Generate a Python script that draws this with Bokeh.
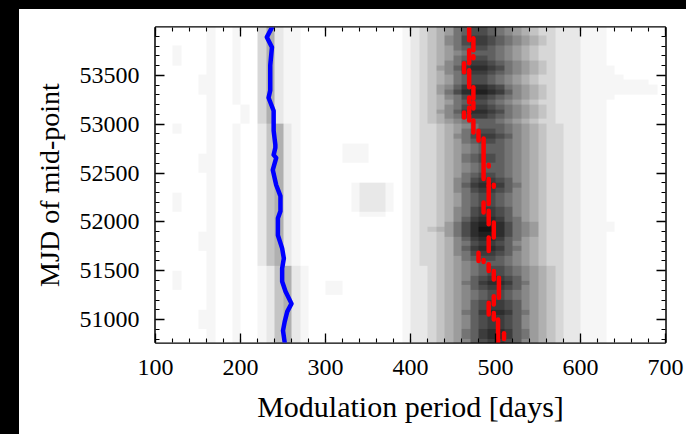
import numpy as np
from bokeh.plotting import figure
from bokeh.layouts import row, column
from bokeh.models import Range1d, FixedTicker, LinearAxis, LinearColorMapper, Spacer
from bokeh.embed import file_html
from bokeh.resources import INLINE

# ---------------- data ----------------
x_ticks = [100, 200, 300, 400, 500, 600, 700]
x_minor = list(range(100, 701, 20))
y_ticks = [51000, 51500, 52000, 52500, 53000, 53500]
y_minor = list(range(50800, 54000, 100))

period_range = (100, 700)
mjd_range = (50765, 53990)

# periodogram power map: columns = period bins 100..700 step 10,
# rows = MJD bins of 50 (top row 53950-54000 ... bottom row 50750-50800),
# hex digit = darkness level (0 white .. f black)
map_x0, map_dx = 100, 600
map_y0, map_dy = 50750, 3250
power_rows = [
    "000000100100 3521 10000000000001 2345689aa9876543322211 10000000",  # 53950
    "000000100100 3521 10000000000001 2345689aa9876543322211 10000000",
    "000000100100 3521 10000000000001 234578abba987654322211 10000000",
    "000000100100 3521 10000000000001 234578abba987654322211 10000000",
    "001000100100 3521 10000000000001 2345689aa9876543322211 10000000",
    "001000100100 3521 10000000000001 2345678999876543322211 10000000",  # 53700
    "001000100100 3521 10000000000001 2345689aa9876543322211 10000000",
    "001000100100 3521 10000000000001 234578abba987654322211 10000000",
    "000000100100 3521 10000000000001 234679bccba87654322211 11000000",
    "000000100100 3521 10000000000001 234578abba987654322211 11000000",
    "000001100100 3521 10000000000001 2345689aa9876543322211 11100000",  # 53450
    "000001100100 3521 10000000000001 2345689aa9876543322211 11111100",
    "000001100100 3521 10000000000001 234679bccba87654322211 11111110",
    "000001100100 3521 10000000000001 23468acddcb97654322211 11111110",
    "000000100100 3521 10000000000001 234578abba987654322211 11000000",
    "000000100100 3521 10000000000001 2345689aa9876543322211 10000000",  # 53200
    "000000100010 3521 10000000000001 234578abba987654322211 10000000",
    "000000100010 3521 10000000000001 234679bccba87654322211 10000000",
    "000000100010 3521 10000000000001 234578abba987654322211 10000000",
    "000000100010 3521 10000000000001 2345678999876543322211 10000000",
    "001000100100 2452 10000000000001 2334567899987654332211 10000000",  # 52950
    "001000100100 2452 10000000000001 23345689aa987654332211 10000000",
    "000000100100 2452 10000000000001 2334578abba97654332211 10000000",
    "000000100100 2452 10000000000001 23345689aa987654332211 10000000",
    "000000100100 2452 10000011100001 2334567899987654332211 10000000",
    "000000100100 2452 10000011100001 2334567899987654332211 10000000",  # 52700
    "000001100100 2452 10000011100001 23345689aa987654332211 10000000",
    "000001100100 2452 10000011100001 23345689aa987654332211 10000000",
    "000001100100 2452 10000000000001 2334567899987654332211 10000000",
    "000001100100 2452 10000000000001 2334567899987654332211 10000000",
    "000000100100 2452 10000000000001 23345689aa987654332211 10000000",  # 52450
    "000000100100 2452 10000000000001 2334578abba97654332211 10000000",
    "000000100100 2452 10000001222101 2334579bccb98654332211 10000000",
    "000000100100 2452 10000001222101 2334578abba97654332211 10000000",
    "001000100100 2452 10000001222101 23345689aa987654332211 10000000",
    "001000100100 2452 10000001222101 23345689aa987654332211 10000000",  # 52200
    "001000100100 2452 10000001222101 23345689aa987654332211 10000000",
    "001000100100 2452 10000001222101 2334578abba97654332211 10000000",
    "000000100100 2452 10000000111001 2334578abba97654332211 10000000",
    "000000100100 2452 10000000000001 2334579bccb98654332211 10000000",
    "000000100100 2452 10000000000001 233468acddca8764332211 11000000",  # 51950
    "000000100100 2452 10000000000001 234568aceeca8764332211 11000000",
    "000001100100 2452 10000000000001 233468acddca8764332211 10000000",
    "000001100100 2452 10000000000001 2334579bccb98654332211 10000000",
    "000001100100 2452 10000000000001 2334578abba97654332211 10000000",
    "000001100100 2452 10000000000001 2334579bccb98654332211 10000000",  # 51700
    "000000100100 2452 10000000000001 2334578abba97654332211 10000000",
    "000000100100 2452 10000000000001 23345689aa987654332211 10000000",
    "000000100100 2452 10000000000001 2334567899987654332211 10000000",
    "000000100100 1245 21000000000001 223456789aa98765432211 10000000",
    "001000100100 1245 21000000000001 223456789aa98765432211 10000000",  # 51450
    "001000100100 1245 21000000000001 22345679abba9765432211 10000000",
    "001000100100 1245 21001100000001 22345689bccb9865432211 10000000",
    "001000100100 1245 21001100000001 22345679abba9765432211 10000000",
    "000000100100 1245 21001100000001 223456789aa98765432211 10000000",
    "000000100100 1245 21000000000001 223456789aa98765432211 10000000",  # 51200
    "000000100100 1245 21000000000001 22345679abba9765432211 10000000",
    "000000100100 1245 21000000000001 22345679abba9765432211 10000000",
    "000001100100 1245 21000000000001 22345689bccb9865432211 10000000",
    "000001100100 1245 21000000000001 22345679abba9765432211 10000000",
    "000001100100 1245 21000000000001 22345679abba9765432211 10000000",  # 50950
    "000001100100 1245 21000000000001 22345679abba9765432211 10000000",
    "000000100100 1245 21000000000001 22345689bccb9865432211 10000000",
    "000000100100 1245 21000000000001 22345689bccb9865432211 10000000",
    "000000100100 1245 21000000000001 22345679abba9765432211 10000000",  # 50750
]

# blue track (secondary peak)
blue_period = [237, 231, 237, 235, 235, 233, 239, 239, 241, 241, 239, 242, 238, 242,
               247, 247, 244, 244, 249, 251, 249, 249, 253, 260, 255, 252, 250, 252]
blue_mjd = [53990, 53891, 53788, 53603, 53346, 53271, 53138, 52933, 52790, 52759,
            52686, 52655, 52532, 52377, 52264, 52110, 52038, 51863, 51729, 51626,
            51524, 51390, 51287, 51163, 51081, 50979, 50886, 50765]

# red track (main peak), drawn as runs of constant period
red_period = [469, 474, 469, 474, 463, 469, 474, 469, 474, 469, 463, 469, 474, 480,
              486, 492, 492, 498, 492, 486, 492, 498, 492, 480, 486, 492, 498, 504,
              498, 492, 498, 503, 510, 503]
red_mjd_start = [53860, 53757, 53624, 53676, 53531, 53377, 53264, 53223, 53161, 53120,
                 53068, 53038, 52915, 52833, 52439, 52566, 52370, 52360, 52182, 52096,
                 51976, 51839, 51702, 51599, 51589, 51496, 51411, 51222, 51154, 51051,
                 51000, 50805, 50800, 50765]
red_mjd_end = [53990, 53880, 53757, 53696, 53624, 53552, 53377, 53274, 53223, 53171,
               53120, 53089, 53038, 52932, 52853, 52586, 52439, 52380, 52370, 52199,
               52113, 51993, 51839, 51684, 51609, 51565, 51496, 51428, 51239, 51171,
               51068, 51000, 50860, 50797]

# ---------------- build ----------------
rows = []
for r in power_rows:
    s = r.replace(" ", "")
    s = (s + "0" * 60)[:60]
    rows.append([int(c, 16) for c in s])
power = np.flipud(np.array(rows, dtype=float))

# grey level for each darkness step 0..15
grey_lut = [255, 246, 232, 215, 196, 176, 156, 136, 116, 96, 76, 60, 45, 32, 20, 10]
palette = ["#%02x%02x%02x" % (g, g, g) for g in grey_lut]

FONT = "Liberation Serif"

p = figure(width=667, height=425, output_backend="svg", toolbar_location=None,
           x_range=Range1d(*period_range), y_range=Range1d(*mjd_range),
           min_border_left=136, min_border_right=21, min_border_top=18,
           min_border_bottom=92, background_fill_color="white",
           border_fill_color="white")
p.xgrid.visible = False
p.ygrid.visible = False
p.outline_line_color = "black"
p.outline_line_width = 2.5

mapper = LinearColorMapper(palette=palette, low=-0.5, high=15.5)
p.image(image=[power], x=map_x0, y=map_y0, dw=map_dx, dh=map_dy, color_mapper=mapper)

p.line(blue_period, blue_mjd, line_color="#0000ff", line_width=4.5,
       line_join="round", line_cap="round")
p.segment(x0=red_period, y0=red_mjd_start, x1=red_period, y1=red_mjd_end,
          line_color="#ff0000", line_width=4.5, line_cap="round")


def style_axis(ax, ticks, minor, labels=True):
    ax.ticker = FixedTicker(ticks=ticks, minor_ticks=minor)
    ax.axis_line_color = None
    ax.major_tick_in = 9
    ax.major_tick_out = 0
    ax.minor_tick_in = 4
    ax.minor_tick_out = 0
    ax.major_tick_line_color = "black"
    ax.minor_tick_line_color = "black"
    ax.major_tick_line_width = 1.3
    ax.minor_tick_line_width = 1.1
    if labels:
        ax.major_label_text_font = FONT
        ax.major_label_text_font_size = "24px"
        ax.major_label_text_color = "black"
        ax.axis_label_text_font = FONT
        ax.axis_label_text_font_style = "normal"
        ax.axis_label_text_color = "black"
    else:
        ax.major_label_text_alpha = 0
        ax.major_label_text_font_size = "1px"
        ax.major_label_standoff = 0


xa = p.xaxis[0]
ya = p.yaxis[0]
style_axis(xa, x_ticks, x_minor)
style_axis(ya, y_ticks, y_minor)
xa.axis_label = "Modulation period [days]"
ya.axis_label = "MJD of mid-point"
xa.axis_label_text_font_size = "30px"
ya.axis_label_text_font_size = "28px"
xa.major_label_standoff = 17
ya.major_label_standoff = 16
xa.axis_label_standoff = 12
ya.axis_label_standoff = 12
ya.major_label_orientation = "horizontal"

top = LinearAxis()
right = LinearAxis()
style_axis(top, x_ticks, x_minor, labels=False)
style_axis(right, y_ticks, y_minor, labels=False)
p.add_layout(top, "above")
p.add_layout(right, "right")

left_bar = Spacer(width=19, height=434, styles={"background-color": "#000000"})
top_bar = Spacer(width=667, height=9, styles={"background-color": "#000000"})
layout = row(left_bar, column(top_bar, p, spacing=0), spacing=0)

open("out.html", "w").write(file_html(layout, INLINE))
